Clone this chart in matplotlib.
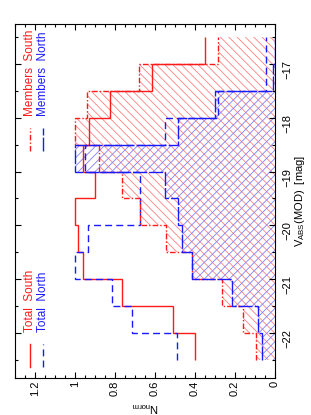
import matplotlib
matplotlib.use('Agg')
import matplotlib.pyplot as plt
from matplotlib.ticker import MultipleLocator, FixedLocator, FixedFormatter

plt.rcParams['font.family'] = ['Liberation Sans', 'DejaVu Sans']
plt.rcParams['mathtext.fontset'] = 'custom'
plt.rcParams['mathtext.rm'] = 'Liberation Sans'
plt.rcParams['mathtext.it'] = 'Liberation Sans'
plt.rcParams['hatch.linewidth'] = 0.6

# bin edges of V_ABS(MOD) [mag]
mag_edges = [-22.5, -22.0, -21.5, -21.0, -20.5, -20.0, -19.5,
             -19.0, -18.5, -18.0, -17.5, -17.0, -16.5]

# normalised counts per bin
total_south = [0.40, 0.51, 0.767, 0.96, 0.987, 1.0, 0.90, 0.962, 0.928, 0.825, 0.617, 0.35]
total_north = [0.49, 0.717, 0.817, 1.0, 0.937, 0.675, 0.675, 0.95, 0.55, 0.285, 0.045, 0.045]
members_south = [0.095, 0.158, 0.267, 0.417, 0.545, 0.675, 0.763, 0.878, 1.0, 0.942, 0.678, 0.287]
members_north = [0.067, 0.083, 0.217, 0.417, 0.467, 0.485, 0.55, 1.0, 0.483, 0.30, 0.01, 0.0]

n_ticks = [0, 0.2, 0.4, 0.6, 0.8, 1.0, 1.2]
n_labels = ['0', '0.2', '0.4', '0.6', '0.8', '1', '1.2']
mag_ticks = [-22, -21, -20, -19, -18, -17]

RED = '#ff1a1a'
BLUE = '#1a1aff'

fig = plt.figure(figsize=(3.11, 4.15), dpi=100)
# the plot is printed turned by 90 degrees: magnitude runs upward, N_norm to the left
ax = fig.add_axes([15 / 311, 37 / 415, 260 / 311, 354 / 415])

# hatched member histograms
ax.stairs(members_south, mag_edges, orientation='horizontal', baseline=0, fill=True,
          facecolor='none', edgecolor='#ff8080', hatch='\\\\\\\\', linewidth=0, zorder=1)
ax.stairs(members_north, mag_edges, orientation='horizontal', baseline=0, fill=True,
          facecolor='none', edgecolor='#8080ff', hatch='////', linewidth=0, zorder=1)

styles = {
    'Total South': (total_south, RED, '-'),
    'Total North': (total_north, BLUE, (0, (5, 3))),
    'Members South': (members_south, RED, (0, (4, 1.5, 1, 1.5))),
    'Members North': (members_north, BLUE, (0, (10, 1.5))),
}
for name, (vals, col, ls) in styles.items():
    ax.stairs(vals, mag_edges, orientation='horizontal', baseline=None,
              color=col, linestyle=ls, linewidth=1.0, zorder=3)

ax.set_xlim(1.3, 0)
ax.set_ylim(-22.844, -16.25)

ax.xaxis.set_major_locator(FixedLocator(n_ticks))
ax.xaxis.set_major_formatter(FixedFormatter(n_labels))
ax.xaxis.set_minor_locator(MultipleLocator(0.05))
ax.yaxis.set_major_locator(FixedLocator(mag_ticks))
ax.yaxis.set_minor_locator(MultipleLocator(0.5))

ax.tick_params(which='both', direction='in', top=True, bottom=True, left=True, right=True,
               labelleft=False, labelright=True, width=0.8)
ax.tick_params(which='major', length=4.5)
ax.tick_params(which='minor', length=2.5)
ax.tick_params(axis='x', labelrotation=90, pad=2, labelsize=8)
ax.tick_params(axis='y', labelrotation=90, pad=5, labelsize=8)
for s in ax.spines.values():
    s.set_linewidth(0.8)

ax.set_xlabel('N$_{\\rm norm}$', rotation=180, fontsize=8, labelpad=3)
ax.yaxis.set_label_position('right')
ax.set_ylabel('V$_{\\rm ABS}$(MOD)  [mag]', rotation=90, fontsize=8, labelpad=0.5)

# legend, written sideways like the rest of the plot
legend = [
    ('Total  South', RED, '-', 0.058, 0.031),
    ('Total  North', BLUE, (0, (5, 3)), 0.108, 0.031),
    ('Members  South', RED, (0, (4, 1.5, 1, 1.5)), 0.058, 0.64),
    ('Members  North', BLUE, (0, (10, 1.5)), 0.108, 0.64),
]
for name, col, ls, u, v in legend:
    ax.plot([u, u], [v, v + 0.065], transform=ax.transAxes, color=col,
            linestyle=ls, linewidth=1.0)
    ax.text(u, v + 0.1, name, transform=ax.transAxes, color=col, fontsize=8.5,
            rotation=90, ha='center', va='bottom')

fig.savefig('out.png', dpi=100)
